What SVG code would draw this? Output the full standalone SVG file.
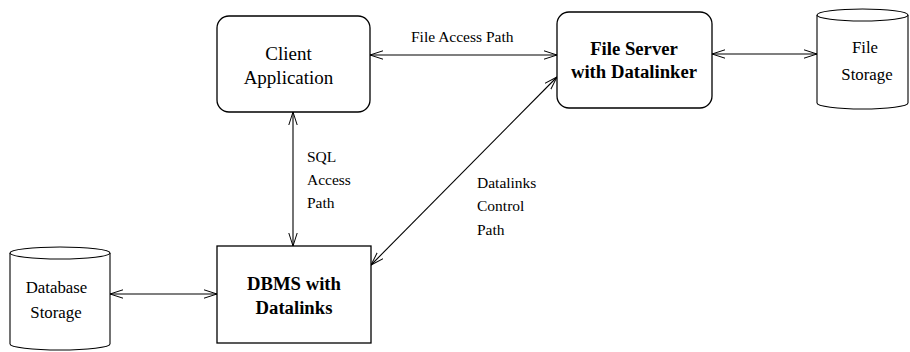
<svg xmlns="http://www.w3.org/2000/svg" width="910" height="352" viewBox="0 0 910 352" font-family="'Liberation Serif', 'Times New Roman', Times, serif">
  <defs>
    <style>
      .box { fill: #fff; stroke: #000; stroke-width: 1.3; }
      .cyl { fill: #fff; stroke: #000; stroke-width: 1.1; }
      .link { fill: none; stroke: #000; stroke-width: 1.1; marker-start: url(#open); marker-end: url(#open); }
      text { font-family: 'Liberation Serif', 'Times New Roman', Times, serif; fill: #000; }
      .node { font-size: 19px; text-anchor: middle; }
      .bold { font-weight: bold; font-size: 18.7px; }
      .store { font-size: 16.8px; }
      .lbl { font-size: 15.5px; }
    </style>
    <marker id="open" viewBox="0 0 14 10" refX="13" refY="5" markerWidth="14" markerHeight="10" markerUnits="userSpaceOnUse" orient="auto-start-reverse">
      <polyline points="0,0.8 13,5 0,9.2" fill="none" stroke="#000" stroke-width="1"/>
    </marker>
  </defs>

  <g id="connectors">
    <line class="link" x1="370" y1="55" x2="557" y2="55"/>
    <line class="link" x1="712" y1="54" x2="817" y2="54"/>
    <line class="link" x1="293" y1="112" x2="293" y2="246"/>
    <line class="link" x1="110" y1="294" x2="217" y2="294"/>
    <line class="link" x1="557" y1="77" x2="371" y2="265"/>
    <text class="lbl" x="411" y="42">File Access Path</text>
    <text class="lbl" x="307" y="162">SQL</text>
    <text class="lbl" x="307" y="185">Access</text>
    <text class="lbl" x="307" y="208">Path</text>
    <text class="lbl" x="477" y="188">Datalinks</text>
    <text class="lbl" x="477" y="211">Control</text>
    <text class="lbl" x="477" y="235">Path</text>
  </g>

  <g id="client">
    <rect class="box" x="217" y="16" width="153" height="96" rx="12"/>
    <text class="node" x="288.5" y="60">Client</text>
    <text class="node" x="288.5" y="84">Application</text>
  </g>

  <g id="fileserver">
    <rect class="box" x="557" y="12" width="155" height="96" rx="12"/>
    <text class="node bold" x="634" y="55">File Server</text>
    <text class="node bold" x="634" y="78">with Datalinker</text>
  </g>

  <g id="filestorage">
    <path class="cyl" d="M817,15 V103 A45.5,6 0 0 0 908,103 V15"/>
    <ellipse class="cyl" cx="862.5" cy="15" rx="45.5" ry="6"/>
    <text class="node store" x="865" y="53">File</text>
    <text class="node store" x="867" y="80">Storage</text>
  </g>

  <g id="dbms">
    <rect class="box" x="217" y="246" width="154" height="97"/>
    <text class="node bold" x="294" y="290">DBMS with</text>
    <text class="node bold" x="294" y="314">Datalinks</text>
  </g>

  <g id="dbstorage">
    <path class="cyl" d="M10,253 V344 A50,6 0 0 0 110,344 V253"/>
    <ellipse class="cyl" cx="60" cy="253" rx="50" ry="6"/>
    <text class="node store" x="56.5" y="293">Database</text>
    <text class="node store" x="56" y="318">Storage</text>
  </g>
</svg>
